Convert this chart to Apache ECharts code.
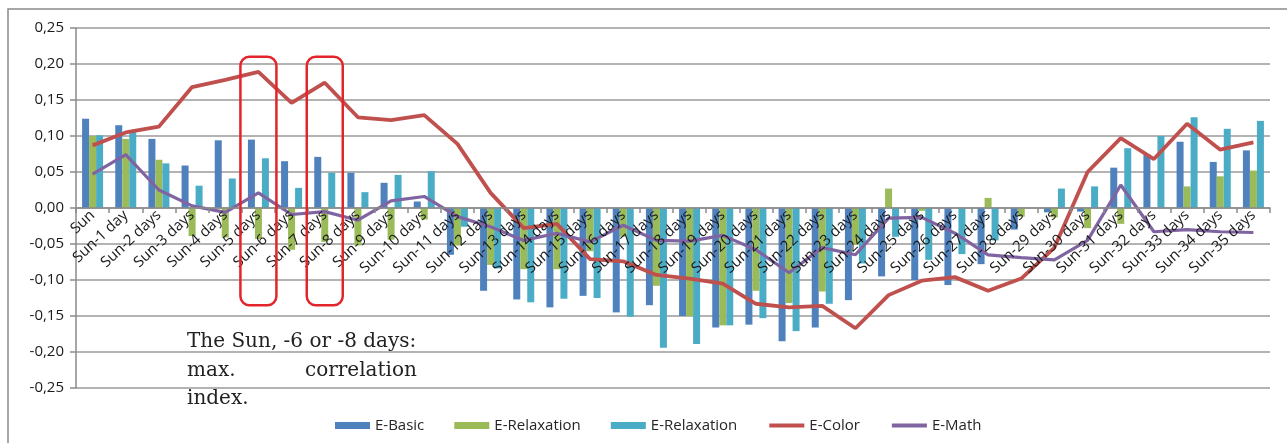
<!DOCTYPE html>
<html>
<head>
<meta charset="utf-8">
<script src="https://cdn.jsdelivr.net/npm/echarts@6/dist/echarts.min.js"></script>
<style>
html,body{margin:0;padding:0;background:#fff;}
#chart{width:1287px;height:443px;}
</style>
</head>
<body>
<div id="chart"></div>
<script>
const categories = ['Sun','Sun-1 day','Sun-2 days','Sun-3 days','Sun-4 days','Sun-5 days','Sun-6 days','Sun-7 days','Sun-8 days','Sun-9 days','Sun-10 days','Sun-11 days','Sun-12 days','Sun-13 days','Sun-14 days','Sun-15 days','Sun-16 days','Sun-17 days','Sun-18 days','Sun-19 days','Sun-20 days','Sun-21 days','Sun-22 days','Sun-23 days','Sun-24 days','Sun-25 days','Sun-26 days','Sun-27 days','Sun-28 days','Sun-29 days','Sun-30 days','Sun-31 days','Sun-32 days','Sun-33 days','Sun-34 days','Sun-35 days'];

const eBasic = [0.124,0.115,0.096,0.059,0.094,0.095,0.065,0.071,0.049,0.035,0.009,-0.065,-0.115,-0.127,-0.138,-0.122,-0.145,-0.135,-0.150,-0.166,-0.162,-0.185,-0.166,-0.128,-0.095,-0.100,-0.107,-0.078,-0.030,-0.006,-0.005,0.056,0.074,0.092,0.064,0.080];
const eRelaxation1 = [0.100,0.096,0.067,-0.039,-0.041,-0.043,-0.058,-0.047,-0.052,-0.044,-0.016,-0.052,-0.079,-0.085,-0.085,-0.060,-0.040,-0.108,-0.150,-0.163,-0.115,-0.132,-0.116,-0.051,0.027,-0.004,0,0.014,-0.012,-0.013,-0.028,-0.022,0,0.030,0.044,0.052];
const eRelaxation2 = [0.101,0.106,0.062,0.031,0.041,0.069,0.028,0.049,0.022,0.046,0.051,-0.026,-0.084,-0.131,-0.126,-0.125,-0.151,-0.194,-0.189,-0.163,-0.153,-0.171,-0.133,-0.077,-0.040,-0.072,-0.064,-0.045,0,0.027,0.030,0.083,0.100,0.126,0.110,0.121];
const eColor = [0.087,0.105,0.113,0.168,0.178,0.189,0.146,0.174,0.126,0.122,0.129,0.089,0.021,-0.028,-0.022,-0.071,-0.074,-0.093,-0.098,-0.105,-0.133,-0.138,-0.136,-0.167,-0.121,-0.101,-0.096,-0.115,-0.098,-0.055,0.050,0.097,0.068,0.117,0.081,0.091];
const eMath = [0.047,0.074,0.025,0.003,-0.006,0.021,-0.009,-0.005,-0.017,0.010,0.016,-0.012,-0.026,-0.045,-0.035,-0.047,-0.024,-0.045,-0.046,-0.038,-0.058,-0.090,-0.055,-0.065,-0.014,-0.013,-0.035,-0.065,-0.069,-0.072,-0.045,0.032,-0.033,-0.030,-0.033,-0.034];

const seriesNames = ['E-Basic','E-Relaxation','E-Relaxation ','E-Color','E-Math'];
const colors = ['#4F81BD','#9BBB59','#4BACC6','#C0504D','#8064A2'];
const highlighted = [5, 7];
const noteLines = ['The Sun, -6 or -8 days:', 'max.', 'correlation', 'index.'];

const Y_MIN = -0.25, Y_MAX = 0.25;
const GRID = {left: 76, right: 17, top: 28, bottom: 55};
const plotH = 443 - GRID.top - GRID.bottom;
const zeroOffset = -plotH * (0 - Y_MIN) / (Y_MAX - Y_MIN);

const chart = echarts.init(document.getElementById('chart'));
const fmt = v => (Math.abs(v) < 1e-9 ? 0 : v).toFixed(2).replace('.', ',');
const hiddenSymbol = {color: 'rgba(0,0,0,0)', opacity: 0, borderWidth: 0};

chart.setOption({
  animation: false,
  backgroundColor: '#fff',
  color: colors,
  grid: Object.assign({containLabel: false, outerBoundsMode: 'none'}, GRID),
  legend: {
    top: 413, left: 330, itemGap: 30, itemWidth: 35, itemHeight: 7,
    textStyle: {fontFamily: 'Open Sans', fontSize: 15, color: '#262626'},
    formatter: n => n.trim(),
    data: [
      {name: seriesNames[0], icon: 'rect'},
      {name: seriesNames[1], icon: 'rect'},
      {name: seriesNames[2], icon: 'rect'},
      {name: seriesNames[3], itemStyle: hiddenSymbol, lineStyle: {width: 4}},
      {name: seriesNames[4], itemStyle: hiddenSymbol, lineStyle: {width: 4}}
    ]
  },
  xAxis: {
    type: 'category', data: categories, position: 'bottom', offset: zeroOffset, z: 10,
    axisLine: {onZero: false, lineStyle: {color: '#8a8a8a', width: 1.5}},
    axisTick: {show: true, length: 5, lineStyle: {color: '#8a8a8a', width: 1.5}},
    axisLabel: {interval: 0, rotate: 43, fontFamily: 'Open Sans', fontSize: 15, color: '#1a1a1a', margin: 5, hideOverlap: false},
    splitLine: {show: false}
  },
  yAxis: {
    type: 'value', min: Y_MIN, max: Y_MAX, interval: 0.05,
    axisLine: {show: true, onZero: false, lineStyle: {color: '#8a8a8a', width: 1.5}},
    axisTick: {show: true, length: 6, lineStyle: {color: '#8a8a8a', width: 1.5}},
    axisLabel: {formatter: fmt, fontFamily: 'Open Sans', fontSize: 15, color: '#1a1a1a', margin: 12},
    splitLine: {lineStyle: {color: '#9a9a9a', width: 1.5}}
  },
  series: [
    {name: seriesNames[0], type: 'bar', data: eBasic, barWidth: 7, barGap: '0%', itemStyle: {color: colors[0]}},
    {name: seriesNames[1], type: 'bar', data: eRelaxation1, barWidth: 7, barGap: '0%', itemStyle: {color: colors[1]}},
    {name: seriesNames[2], type: 'bar', data: eRelaxation2, barWidth: 7, barGap: '0%', itemStyle: {color: colors[2]}},
    {name: seriesNames[3], type: 'line', data: eColor, symbol: 'none', lineStyle: {color: colors[3], width: 3.8}, itemStyle: {color: colors[3]}, z: 5},
    {name: seriesNames[4], type: 'line', data: eMath, symbol: 'none', lineStyle: {color: colors[4], width: 3.2}, itemStyle: {color: colors[4]}, z: 5}
  ]
});

// annotation overlays
const graphics = [];
graphics.push({type: 'rect', shape: {x: 8, y: 9, width: 1300, height: 450}, style: {fill: null, stroke: '#8a8a8a', lineWidth: 1.5}, silent: true, z: 0});
highlighted.forEach(i => {
  const top = chart.convertToPixel({xAxisIndex: 0, yAxisIndex: 0}, [i, 0.21]);
  const bot = chart.convertToPixel({xAxisIndex: 0, yAxisIndex: 0}, [i, -0.135]);
  const w = 36;
  graphics.push({type: 'rect', shape: {x: top[0] - w / 2, y: top[1], width: w, height: bot[1] - top[1], r: 9},
    style: {fill: null, stroke: '#E3242B', lineWidth: 2.5}, z: 100, silent: true});
});
const tf = '20px "DejaVu Serif"';
graphics.push({type: 'text', x: 187, y: 332, style: {text: noteLines[0], font: tf, fill: '#222'}, z: 100});
graphics.push({type: 'text', x: 187, y: 361, style: {text: noteLines[1], font: tf, fill: '#222'}, z: 100});
graphics.push({type: 'text', x: 305, y: 361, style: {text: noteLines[2], font: tf, fill: '#222'}, z: 100});
graphics.push({type: 'text', x: 187, y: 389, style: {text: noteLines[3], font: tf, fill: '#222'}, z: 100});
chart.setOption({graphic: graphics});
</script>
</body>
</html>
